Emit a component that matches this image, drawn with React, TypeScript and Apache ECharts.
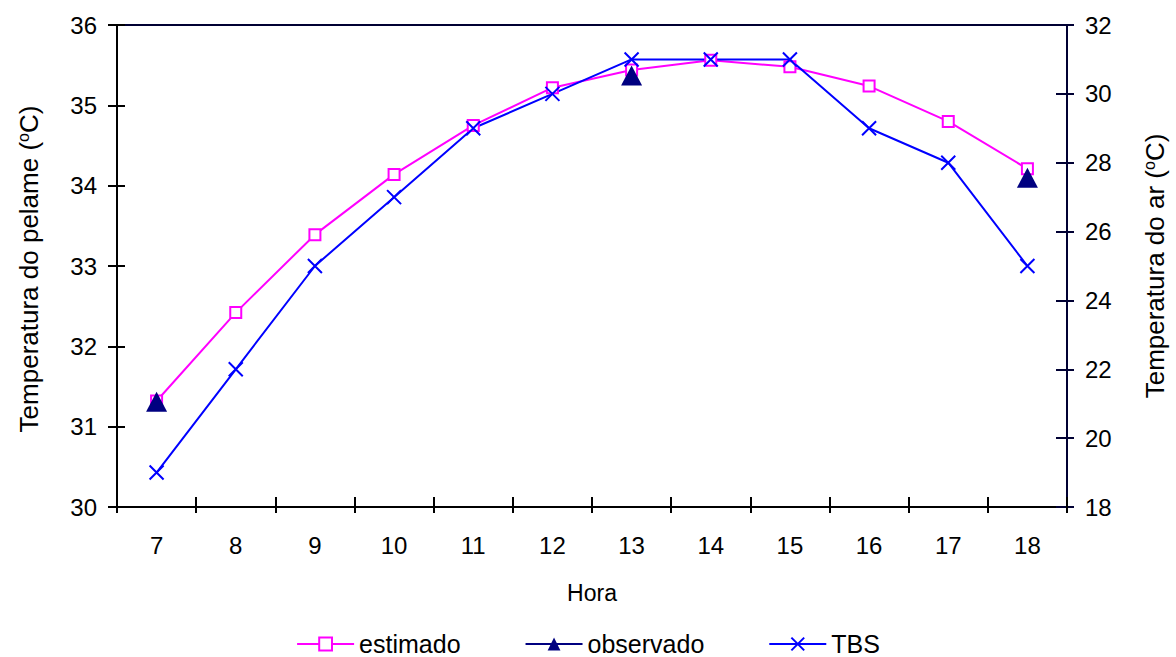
import React, { useEffect, useRef } from "react";
import * as echarts from "echarts";

const hours = ["7", "8", "9", "10", "11", "12", "13", "14", "15", "16", "17", "18"];
const estimado = [31.32, 32.42, 33.39, 34.14, 34.75, 35.22, 35.44, 35.56, 35.48, 35.24, 34.8, 34.21];
const observado = [31.31, null, null, null, null, null, 35.37, null, null, null, null, 34.1];
const tbs = [19, 22, 25, 27, 29, 30, 31, 31, 31, 29, 28, 25];
const leftTicks = { min: 30, max: 36, interval: 1 };
const rightTicks = { min: 18, max: 32, interval: 2 };

const FONT = "Liberation Sans, Arial, sans-serif";

export default function App() {
  const ref = useRef<HTMLDivElement>(null);
  useEffect(() => {
    if (!ref.current) return;
    const chart = echarts.init(ref.current, undefined, { renderer: "svg" });
    const axisBlack = "#000000";
    const axisNavy = "#000033";
    const makeNameStyle = (pad: number[]) => ({
      fontFamily: FONT,
      fontSize: 26,
      color: "#000",
      padding: pad,
      rich: {
        sup: { fontFamily: FONT, fontSize: 16, color: "#000", verticalAlign: "top", padding: [0, 0, 12, 0] },
        n: { fontFamily: FONT, fontSize: 26, color: "#000" },
      },
    });
    chart.setOption({
      animation: false,
      backgroundColor: "#fff",
      textStyle: { fontFamily: FONT },
      grid: {
        left: 117,
        right: 105,
        top: 25,
        bottom: 150,
        show: true,
        borderColor: axisNavy,
        borderWidth: 2,
        backgroundColor: "transparent",
      },
      legend: {
        top: 631,
        left: "center",
        padding: 0,
        itemWidth: 57,
        itemHeight: 16,
        itemGap: 64,
        textStyle: { fontFamily: FONT, fontSize: 25, color: "#000", lineHeight: 26 },
        data: ["estimado", "observado", "TBS"],
      },
      xAxis: [
        {
          type: "category",
          data: hours,
          boundaryGap: true,
          name: "Hora",
          nameLocation: "middle",
          nameGap: 74,
          nameTextStyle: { fontFamily: FONT, fontSize: 23, color: "#000" },
          axisLine: { lineStyle: { color: axisBlack, width: 2 } },
          axisTick: { show: true, inside: false, length: 6, alignWithLabel: false, lineStyle: { color: axisBlack, width: 2 } },
          axisLabel: { fontFamily: FONT, fontSize: 24, color: "#000", margin: 26 },
          splitLine: { show: false },
        },
        {
          type: "category",
          data: hours,
          boundaryGap: true,
          position: "bottom",
          axisLine: { show: false },
          axisTick: { show: true, inside: true, length: 10, alignWithLabel: false, lineStyle: { color: axisBlack, width: 2 } },
          axisLabel: { show: false },
          splitLine: { show: false },
        },
      ],
      yAxis: [
        {
          type: "value",
          position: "left",
          ...leftTicks,
          name: "{n|Temperatura do pelame (}{sup|o}{n|C)}",
          nameLocation: "middle",
          nameRotate: 90,
          nameGap: 74,
          nameTextStyle: makeNameStyle([0, 6, 0, 0]),
          axisLine: { show: true, lineStyle: { color: axisBlack, width: 2 } },
          axisTick: { show: true, inside: false, length: 9, lineStyle: { color: axisBlack, width: 2 } },
          axisLabel: { fontFamily: FONT, fontSize: 24, color: "#000", margin: 20 },
          splitLine: { show: false },
        },
        {
          type: "value",
          position: "right",
          ...rightTicks,
          name: "{n|Temperatura do ar (}{sup|o}{n|C)}",
          nameLocation: "middle",
          nameRotate: 90,
          nameGap: 74,
          nameTextStyle: makeNameStyle([0, 0, 0, 0]),
          axisLine: { show: true, lineStyle: { color: axisNavy, width: 2 } },
          axisTick: { show: true, inside: false, length: 7, lineStyle: { color: axisNavy, width: 2 } },
          axisLabel: { fontFamily: FONT, fontSize: 24, color: "#000", margin: 18 },
          splitLine: { show: false },
        },
        {
          type: "value",
          position: "left",
          ...leftTicks,
          axisLine: { show: false },
          axisTick: { show: true, inside: true, length: 8, lineStyle: { color: axisBlack, width: 2 } },
          axisLabel: { show: false },
          splitLine: { show: false },
        },
        {
          type: "value",
          position: "right",
          ...rightTicks,
          axisLine: { show: false },
          axisTick: { show: true, inside: true, length: 11, lineStyle: { color: axisNavy, width: 2 } },
          axisLabel: { show: false },
          splitLine: { show: false },
        },
      ],
      series: [
        {
          name: "estimado",
          type: "line",
          xAxisIndex: 0,
          yAxisIndex: 0,
          data: estimado,
          symbol: "rect",
          symbolSize: 11,
          showAllSymbol: true,
          lineStyle: { color: "#FF00FF", width: 2 },
          itemStyle: { color: "#FFFFFF", borderColor: "#FF00FF", borderWidth: 2 },
          emphasis: { disabled: true },
        },
        {
          name: "observado",
          type: "line",
          xAxisIndex: 0,
          yAxisIndex: 0,
          data: observado,
          connectNulls: false,
          symbol: "triangle",
          symbolSize: [21, 20],
          showAllSymbol: true,
          lineStyle: { color: "#000080", width: 2 },
          itemStyle: { color: "#000080", borderColor: "#000080", borderWidth: 0 },
          emphasis: { disabled: true },
        },
        {
          name: "TBS",
          type: "line",
          xAxisIndex: 0,
          yAxisIndex: 1,
          data: tbs,
          symbol: "path://M0,0L10,10M10,0L0,10",
          symbolSize: 14,
          showAllSymbol: true,
          lineStyle: { color: "#0000FF", width: 2 },
          itemStyle: { color: "#0000FF", borderColor: "#0000FF", borderWidth: 2 },
          emphasis: { disabled: true },
        },
      ],
    });
    return () => chart.dispose();
  }, []);
  return (
    <div
      ref={ref}
      style={{ position: "fixed", left: 0, top: 0, width: 1176, height: 657, background: "#fff" }}
    />
  );
}
